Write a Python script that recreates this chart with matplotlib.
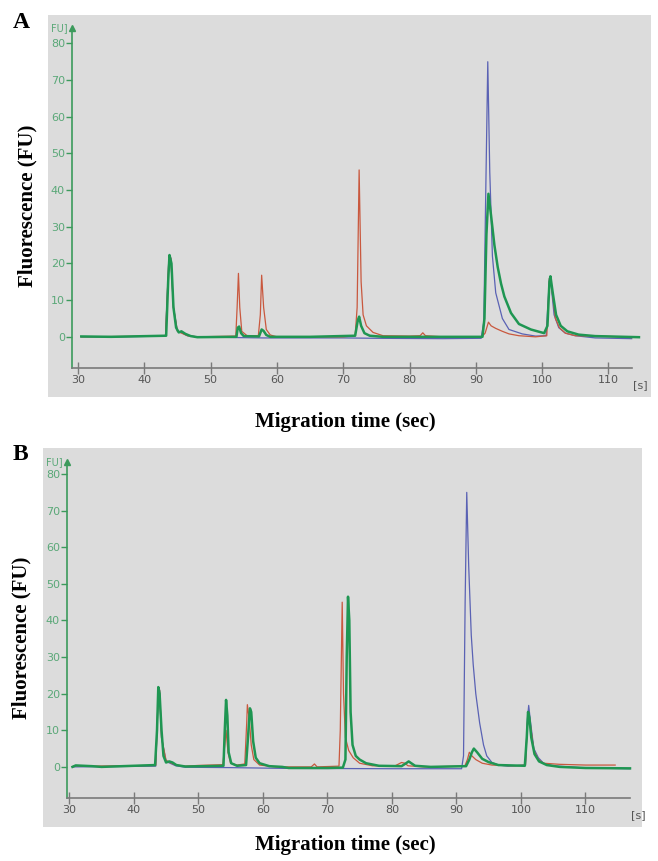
import matplotlib
matplotlib.use("Agg")
import matplotlib.pyplot as plt

# ---------------- data ----------------
# Panel A traces: migration time (s) and fluorescence (FU)
blue_A_x = [30.5, 36, 43.2, 43.7, 44.0, 44.4, 45, 45.6, 46.5, 48, 53.8, 58, 70, 75, 85, 90.8, 91.2, 91.5, 91.8,
            92.1, 92.5, 93, 94, 95, 97, 99, 100.6, 101.1, 101.3, 101.8, 102.5, 103.5, 105, 108, 113.5]
blue_A_y = [0, 0, 0.2, 21, 21.5, 8, 1.5, 1.2, 0.3, 0, -0.2, -0.3, -0.3, -0.4, -0.5, -0.4, 4, 40, 75,
            45, 22, 12, 5, 2, 0.8, 0.2, 0.3, 16, 15, 6, 2.5, 1, 0.3, -0.3, -0.5]

red_A_x = [30.5, 43.2, 43.7, 44.0, 44.4, 45, 46.5, 48, 53.8, 54.0, 54.2, 54.4, 54.7, 55.5, 57.2, 57.5, 57.7,
           58.0, 58.4, 59, 60, 70, 71.8, 72.1, 72.4, 72.7, 73, 73.5, 74.5, 76, 80, 81.6, 82.0, 82.4, 85,
           90.9, 91.4, 91.9, 92.3, 93, 94, 95, 96.5, 99, 100.7, 101.1, 101.4, 102, 102.6, 103.5, 105, 108,
           112, 113.5]
red_A_y = [0, 0.2, 21, 21.5, 8, 1.5, 0.3, 0, 0.2, 8, 17.3, 8, 1.5, 0.3, 0.3, 6, 16.8,
           8, 2, 0.5, 0, 0, 0.3, 8, 45.5, 15, 6, 3, 1.2, 0.3, 0.2, 0.3, 1.1, 0.3, 0,
           0, 1, 4, 3, 2.3, 1.5, 0.8, 0.3, 0, 0.3, 16, 14, 5, 2.5, 1, 0.3, 0.2,
           0, -0.2]

green_A_x = [30.5, 35, 43.3, 43.6, 43.8, 44.1, 44.4, 44.8, 45.2, 45.6, 46.2, 47, 48, 53.9, 54.1, 54.3, 54.6,
             55, 57.3, 57.7, 58, 58.4, 59, 65, 71.8, 72.2, 72.4, 72.7, 73.2, 74, 76, 91.0, 91.3, 91.6,
             91.9, 92.3, 92.8, 93.3, 93.8, 94.3, 95.3, 96.5, 98.3, 100.3, 100.8, 101.1, 101.25, 101.6,
             102.1, 102.8, 103.8, 105.5, 108, 114.6]
green_A_y = [0.1, 0, 0.3, 15, 22.3, 20, 8, 2.5, 1.2, 1.5, 0.8, 0.2, -0.1, 0, 2.5, 2.8, 1,
             0.2, 0.1, 2, 1.6, 0.5, 0, 0, 0.3, 4.5, 5.5, 3, 1, 0.3, 0, 0, 5, 28,
             39, 33, 25, 19, 14.5, 11, 6.5, 3.5, 2, 1, 3, 15, 16.5, 12,
             6, 3, 1.5, 0.6, 0.2, -0.1]

# Panel B traces
blue_B_x = [30.5, 43.4, 43.8, 44.0, 44.3, 45, 46.5, 48, 55, 63, 80, 90.8, 91.1, 91.35, 91.6, 91.9, 92.3,
            92.6, 93.0, 93.6, 94.2, 94.7, 95.5, 96.5, 98, 100.7, 101.0, 101.2, 101.5, 102, 102.7, 103.5,
            105, 110, 116.9]
blue_B_y = [0, 0.2, 20, 21, 8, 1.5, 0.3, -0.1, -0.2, -0.4, -0.5, -0.5, 3, 45, 75, 55, 36,
            28, 20, 12, 6, 3, 1.2, 0.5, 0.2, 0.5, 13, 16.8, 12, 5, 2.5, 1,
            0.3, -0.3, -0.5]

red_B_x = [30.5, 31, 33, 43.4, 43.8, 44.0, 44.3, 45, 45.5, 46.5, 48, 50, 53.8, 54.1, 54.3, 54.6, 55, 56,
           57.2, 57.5, 57.6, 57.9, 58.2, 58.6, 59.5, 62, 67.5, 68.0, 68.4, 71.8, 72.0, 72.3, 72.5, 72.8,
           73.3, 74, 75, 77, 80.5, 81.5, 82, 82.5, 85, 91.3, 91.7, 92.0, 92.4, 93, 94, 95.5, 99, 100.7,
           101.0, 101.2, 101.5, 102, 102.7, 103.5, 106, 110, 114.6]
red_B_y = [0.1, 0.3, 0.2, 0.4, 20, 21, 8, 1.8, 1.3, 0.5, 0.2, 0.4, 0.6, 6, 10, 4, 1, 0.5,
           0.8, 12, 17, 13, 6, 2, 0.5, 0, 0, 0.8, 0, 0.2, 10, 45, 20, 8,
           4.5, 2.5, 1, 0.3, 0.3, 1.2, 1, 0.3, 0, 0.2, 2, 4, 3, 2, 1, 0.5, 0.3, 0.5,
           12, 15, 11, 4.5, 2, 1, 0.7, 0.5, 0.5]

green_B_x = [30.5, 31, 33.5, 35, 43.3, 43.6, 43.8, 44.0, 44.3, 44.6, 45, 45.5, 46, 46.6, 48, 53.9, 54.1,
             54.3, 54.5, 54.7, 55.1, 56, 57.4, 57.7, 58.0, 58.2, 58.5, 58.9, 59.5, 61, 63, 64, 70, 72.4,
             72.8, 73.0, 73.2, 73.4, 73.6, 73.9, 74.4, 75, 76, 78, 81.5, 82.2, 82.6, 83, 83.6, 86, 91.5,
             92.0, 92.4, 92.7, 93.2, 94, 95, 96.5, 100.6, 100.9, 101.1, 101.3, 101.6, 102.1, 102.8, 104,
             106, 110, 116.9]
green_B_y = [0, 0.4, 0.2, 0, 0.5, 10, 21.8, 20, 10, 3, 1.2, 1.5, 1.2, 0.5, 0.1, 0.3, 10,
             18.3, 14, 4, 1, 0.3, 0.5, 8, 16, 15, 7, 2.5, 1, 0.2, 0, -0.3, -0.3, -0.2,
             2, 30, 46.5, 40, 15, 6, 3, 2, 1, 0.3, 0.2, 1, 1.5, 1, 0.3, 0, 0.2,
             2, 4, 5, 4, 2.2, 1.3, 0.5, 0.3, 8, 15, 13.5, 8, 3.5, 1.5, 0.5,
             0, -0.3, -0.4]

y_ticks = [0, 10, 20, 30, 40, 50, 60, 70, 80]
x_ticks = [30, 40, 50, 60, 70, 80, 90, 100, 110]
panel_letters = ["A", "B"]
x_label = "Migration time (sec)"
y_label = "Fluorescence (FU)"

# ---------------- styling ----------------
W, H = 658, 861
fig = plt.figure(figsize=(W / 100, H / 100), dpi=100)
fig.patch.set_facecolor("white")

BG = "#dcdcdc"
BLUE = "#5a62b4"
RED = "#c9583e"
GREEN = "#1f9652"
YAX = "#3c9a5c"
YTXT = "#5aa878"
XAX = "#7a7a7a"
XTXT = "#555555"


def px_rect(x0, y0, x1, y1):
    return [x0 / W, 1 - y1 / H, (x1 - x0) / W, (y1 - y0) / H]


def panel(bg_box, ax_box, xlim, ylim, traces, letter, letter_xy, xlab_y, ylab_xy):
    bg = fig.add_axes(px_rect(*bg_box), zorder=0)
    bg.set_facecolor(BG)
    bg.set_xticks([])
    bg.set_yticks([])
    for s in bg.spines.values():
        s.set_visible(False)
    ax = fig.add_axes(px_rect(*ax_box), zorder=1)
    ax.set_facecolor("none")
    ax.set_xlim(*xlim)
    ax.set_ylim(*ylim)
    for s in ("top", "right"):
        ax.spines[s].set_visible(False)
    ax.spines["left"].set_color(YAX)
    ax.spines["left"].set_linewidth(1.2)
    ax.spines["bottom"].set_color(XAX)
    ax.spines["bottom"].set_linewidth(1.2)
    ax.set_yticks(y_ticks)
    ax.set_yticklabels([str(t) for t in y_ticks])
    ax.set_xticks(x_ticks)
    ax.set_xticklabels([str(t) for t in x_ticks])
    ax.tick_params(axis="y", direction="out", length=4, width=1, color=YAX, labelcolor=YTXT,
                   labelsize=8, pad=1)
    ax.tick_params(axis="x", direction="inout", length=8, width=1, color=XAX, labelcolor=XTXT,
                   labelsize=8, pad=1)
    # arrow on top of y axis
    ax.plot([0], [1], marker="^", markersize=5, color=YAX, transform=ax.transAxes, clip_on=False)
    ax.text(-0.008, 1.0, "FU]", transform=ax.transAxes, ha="right", va="center",
            fontsize=7, color=YTXT)
    ax.text(1.002, -0.035, "[s]", transform=ax.transAxes, ha="left", va="top",
            fontsize=8, color=XTXT)
    for xs, ys, c, lw in traces:
        ax.plot(xs, ys, color=c, lw=lw, clip_on=False, solid_joinstyle="round")
    fig.text(letter_xy[0] / W, 1 - letter_xy[1] / H, letter, fontsize=17, fontweight="bold",
             family="Liberation Serif", ha="center", va="center")
    fig.text(345 / W, 1 - xlab_y / H, x_label, fontsize=15, fontweight="bold",
             family="Liberation Serif", ha="center", va="center")
    fig.text(ylab_xy[0] / W, 1 - ylab_xy[1] / H, y_label, fontsize=15, fontweight="bold",
             family="Liberation Serif", ha="center", va="center", rotation=90)
    return ax


panel((48, 15, 651, 397), (72, 28, 632, 368), (29.1, 113.55), (-8.5, 84.2),
      [(blue_A_x, blue_A_y, BLUE, 0.9), (red_A_x, red_A_y, RED, 0.9), (green_A_x, green_A_y, GREEN, 1.8)],
      panel_letters[0], (21, 23), 422, (27, 206))

panel((43, 448, 642, 827), (67, 462, 630, 798), (29.65, 116.9), (-8.5, 83.3),
      [(blue_B_x, blue_B_y, BLUE, 0.9), (red_B_x, red_B_y, RED, 0.9), (green_B_x, green_B_y, GREEN, 1.8)],
      panel_letters[1], (20, 455), 845, (21, 638))

fig.savefig("out.png", dpi=100)
